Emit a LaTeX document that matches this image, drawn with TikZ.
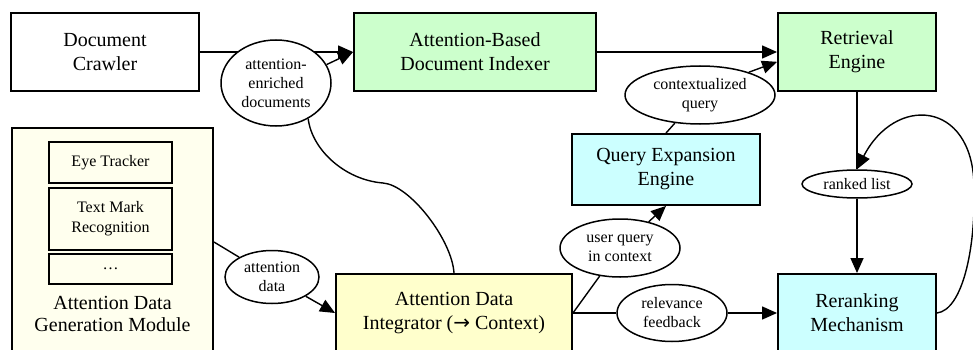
\documentclass[tikz,border=0pt]{standalone}
\usepackage{fontspec}
\setmainfont{Liberation Serif}
\newfontfamily\arrowfont{DejaVu Sans}
\usetikzlibrary{shapes.geometric,arrows.meta,backgrounds}
\definecolor{greenc}{HTML}{CCFFCC}
\definecolor{cyanc}{HTML}{CCFFFF}
\definecolor{yellowc}{HTML}{FFFFCC}
\definecolor{ivoryc}{HTML}{FFFFEE}
\begin{document}
\begin{tikzpicture}[x=1pt,y=-1pt,
  box/.style={draw, rectangle, line width=1.9pt, align=center, inner sep=0pt, font=\fontsize{20}{24}\selectfont},
  inbox/.style={draw, rectangle, line width=1.9pt, align=center, inner sep=0pt, fill=ivoryc, minimum width=123pt, font=\fontsize{16}{20}\selectfont},
  lab/.style={draw, ellipse, fill=white, line width=1.5pt, inner sep=0pt, align=center, font=\fontsize{16}{19}\selectfont},
  edge/.style={line width=1.4pt},
  arr/.style={edge, -{Triangle[length=15pt,width=13pt]}}]
\useasboundingbox (0,0) rectangle (973,350);
% boxes
\node[box, fill=white, minimum width=188pt, minimum height=78pt] (crawler) at (105,52) {Document\\Crawler};
\node[box, fill=greenc, minimum width=242pt, minimum height=78pt] (indexer) at (475,52) {Attention-Based\\Document Indexer};
\node[box, fill=greenc, minimum width=158pt, minimum height=78pt] (retrieval) at (857,52) {Retrieval\\Engine};
\node[box, fill=cyanc, minimum width=188pt, minimum height=71pt] (qe) at (666,169.5) {Query Expansion\\Engine};
\node[box, fill=cyanc, minimum width=158pt, minimum height=78pt] (rerank) at (857,313) {Reranking\\Mechanism};
\node[box, fill=yellowc, minimum width=236pt, minimum height=78pt] (integ) at (454,313) {Attention Data\\Integrator ({\arrowfont →} Context)};
\node[box, fill=ivoryc, minimum width=201pt, minimum height=228pt] (adgm) at (112.5,242) {};
\node[inbox, minimum height=41pt] (eye) at (110.5,162.5) {Eye Tracker};
\node[inbox, minimum height=62pt] (tmr) at (110.5,219) {Text Mark\\Recognition};
\node[inbox, minimum height=30pt] (dots) at (110.5,269) {\ldots};
\node[align=center, inner sep=0pt, font=\fontsize{20}{22}\selectfont] (adgmlab) at (112.5,314) {Attention Data\\Generation Module};
% label ellipses
\node[lab, minimum width=110pt, minimum height=86pt] (aed) at (276,83) {attention-\\enriched\\documents};
\node[lab, minimum width=150pt, minimum height=58pt] (cq) at (700,95) {contextualized\\query};
\node[lab, minimum width=110pt, minimum height=28pt] (rl) at (857,184) {ranked list};
\node[lab, minimum width=120pt, minimum height=58pt] (uqc) at (620,248) {user query\\in context};
\node[lab, minimum width=110pt, minimum height=57pt] (rf) at (672,313) {relevance\\feedback};
\node[lab, minimum width=94pt, minimum height=53pt] (ad) at (272,277) {attention\\data};
% connectors
\begin{scope}[on background layer]
\draw[arr] (crawler.east) -- (indexer.west);
\draw[edge] (integ.north) .. controls (452,240) and (410,185) .. (383,183) .. controls (345,180) and (312,150) .. (aed.-48);
\draw[arr] (aed.20) -- (indexer.west);
\draw[arr] (indexer.east) -- (retrieval.west);
\draw[edge] (qe.north) -- (cq);
\draw[arr] (cq.25) -- (retrieval.-173);
\draw[edge] (integ.east) -- (uqc);
\draw[arr] (uqc) -- (qe.south);
\draw[edge] (integ.east) -- (rf);
\draw[arr] (rf) -- (rerank.west);
\draw[edge] (retrieval.south) -- (rl);
\draw[arr] (rl) -- (rerank.north);
\draw[edge] (adgm.east) -- (ad);
\draw[arr] (ad) -- (integ.west);
\draw[arr] (rerank.east) .. controls (962,310) and (976,250) .. (974,185) .. controls (972,100) and (895,95) .. (rl.north);
\end{scope}
\end{tikzpicture}
\end{document}
